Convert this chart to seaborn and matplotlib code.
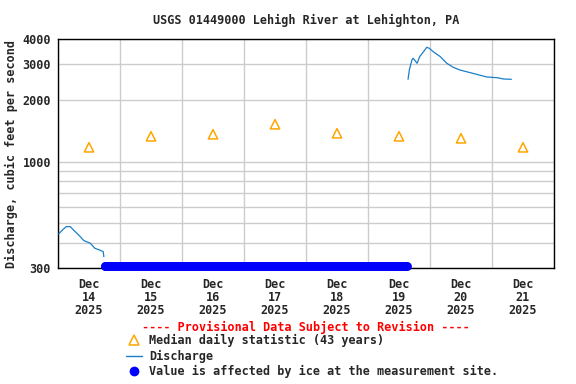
import pandas as pd
import numpy as np
import matplotlib
matplotlib.use("Agg")
import matplotlib.pyplot as plt
import matplotlib.dates as mdates
from matplotlib.lines import Line2D
import seaborn as sns

# ---- data ----
seg1_times = ["2025-12-14 00:15", "2025-12-14 02:00", "2025-12-14 03:15", "2025-12-14 04:45",
              "2025-12-14 06:00", "2025-12-14 08:00", "2025-12-14 10:00", "2025-12-14 12:30",
              "2025-12-14 14:15", "2025-12-14 16:15", "2025-12-14 17:30", "2025-12-14 17:45"]
seg1_flow = [441, 465, 479, 479, 461, 436, 409, 397, 375, 367, 361, 341]

seg2_times = ["2025-12-19 15:30", "2025-12-19 16:00", "2025-12-19 17:00", "2025-12-19 17:30",
              "2025-12-19 19:00", "2025-12-19 20:00", "2025-12-19 21:30", "2025-12-19 22:45",
              "2025-12-19 23:45", "2025-12-20 01:15", "2025-12-20 04:00", "2025-12-20 06:30",
              "2025-12-20 09:00", "2025-12-20 11:30", "2025-12-20 15:00", "2025-12-20 18:00",
              "2025-12-20 22:00", "2025-12-21 02:00", "2025-12-21 04:30", "2025-12-21 07:30"]
seg2_flow = [2536, 2818, 3155, 3216, 3039, 3275, 3465, 3641, 3600, 3465, 3275, 3039,
             2904, 2818, 2745, 2683, 2603, 2582, 2544, 2536]

median_days = ["2025-12-14 12:00", "2025-12-15 12:00", "2025-12-16 12:00", "2025-12-17 12:00",
               "2025-12-18 12:00", "2025-12-19 12:00", "2025-12-20 12:00", "2025-12-21 12:00"]
median_flow = [1175, 1331, 1362, 1525, 1377, 1331, 1301, 1175]

ice_start = "2025-12-14 18:00"
ice_end = "2025-12-19 15:00"
ice_value = 308

y_grid = [300, 400, 500, 600, 700, 800, 900, 1000, 2000, 3000, 4000]
y_labels = ["300", "", "", "", "", "", "", "1000", "2000", "3000", "4000"]

df1 = pd.DataFrame({"time": pd.to_datetime(seg1_times), "flow": seg1_flow})
df2 = pd.DataFrame({"time": pd.to_datetime(seg2_times), "flow": seg2_flow})
df_med = pd.DataFrame({"time": pd.to_datetime(median_days), "flow": median_flow})
ice_times = pd.date_range(ice_start, ice_end, freq="15min")
df_ice = pd.DataFrame({"time": ice_times, "flow": [ice_value] * len(ice_times)})

# ---- style ----
sns.set_style("white")
plt.rcParams['font.family'] = ['DejaVu Sans Mono']
plt.rcParams['font.weight'] = 'bold'
FS = 8.5

fig = plt.figure(figsize=(5.76, 3.84), dpi=100)
ax = fig.add_axes([58 / 576, 1 - 268 / 384, (554 - 58) / 576, (268 - 39) / 384])

line_col = "#1a7fc9"
sns.lineplot(data=df1, x="time", y="flow", ax=ax, color=line_col, linewidth=0.9, zorder=3)
sns.lineplot(data=df2, x="time", y="flow", ax=ax, color=line_col, linewidth=0.9, zorder=3)
sns.scatterplot(data=df_med, x="time", y="flow", ax=ax, marker="^", s=45,
                facecolor="none", edgecolor="#ffa500", linewidth=1.1, zorder=4)
sns.scatterplot(data=df_ice, x="time", y="flow", ax=ax, marker="o", s=40,
                color="#0000ff", edgecolor="#0000ff", linewidth=0, zorder=5, clip_on=False)

ax.set_yscale("log")
ax.set_ylim(300, 4000)
ax.set_yticks(y_grid)
ax.set_yticklabels(y_labels)
ax.yaxis.set_minor_locator(matplotlib.ticker.NullLocator())

ax.set_xlim(pd.Timestamp("2025-12-14"), pd.Timestamp("2025-12-22"))
ax.xaxis.set_major_locator(mdates.HourLocator(byhour=12))
ax.xaxis.set_major_formatter(mdates.DateFormatter("%b\n%d\n%Y"))
ax.xaxis.set_minor_locator(mdates.DayLocator())

ax.grid(False)
ax.grid(True, axis="y", which="major", color="#cccccc", linewidth=1)
ax.grid(True, axis="x", which="minor", color="#cccccc", linewidth=1)
ax.tick_params(which="both", length=0, labelsize=FS, pad=5)
ax.tick_params(axis="x", pad=7)
for lab in ax.get_xticklabels() + ax.get_yticklabels():
    lab.set_fontweight("bold")
    lab.set_linespacing(1.0)

for sp in ax.spines.values():
    sp.set_color("black")
    sp.set_linewidth(1)

ax.set_xlabel("")
ax.set_ylabel("Discharge, cubic feet per second", fontsize=FS, fontweight="bold", labelpad=3)
ax.set_title("USGS 01449000 Lehigh River at Lehighton, PA", fontsize=FS, fontweight="bold", pad=11)

fig.text(306 / 576, 1 - 327 / 384, "---- Provisional Data Subject to Revision ----",
         color="red", fontsize=FS, fontweight="bold", ha="center", va="center")

handles = [
    Line2D([], [], marker="^", linestyle="none", markersize=7, markerfacecolor="none",
           markeredgecolor="#ffa500", markeredgewidth=1.1),
    Line2D([], [], color=line_col, linewidth=1),
    Line2D([], [], marker="o", linestyle="none", markersize=6, color="#0000ff"),
]
labels = ["Median daily statistic (43 years)", "Discharge",
          "Value is affected by ice at the measurement site."]
fig.legend(handles, labels, loc="upper left", bbox_to_anchor=(126 / 576, 1 - 334 / 384),
           frameon=False, fontsize=FS, handlelength=1.35, handletextpad=0.6,
           labelspacing=0.22, borderpad=0, borderaxespad=0, prop={"weight": "bold", "size": FS})

fig.savefig("out.png", dpi=100)
